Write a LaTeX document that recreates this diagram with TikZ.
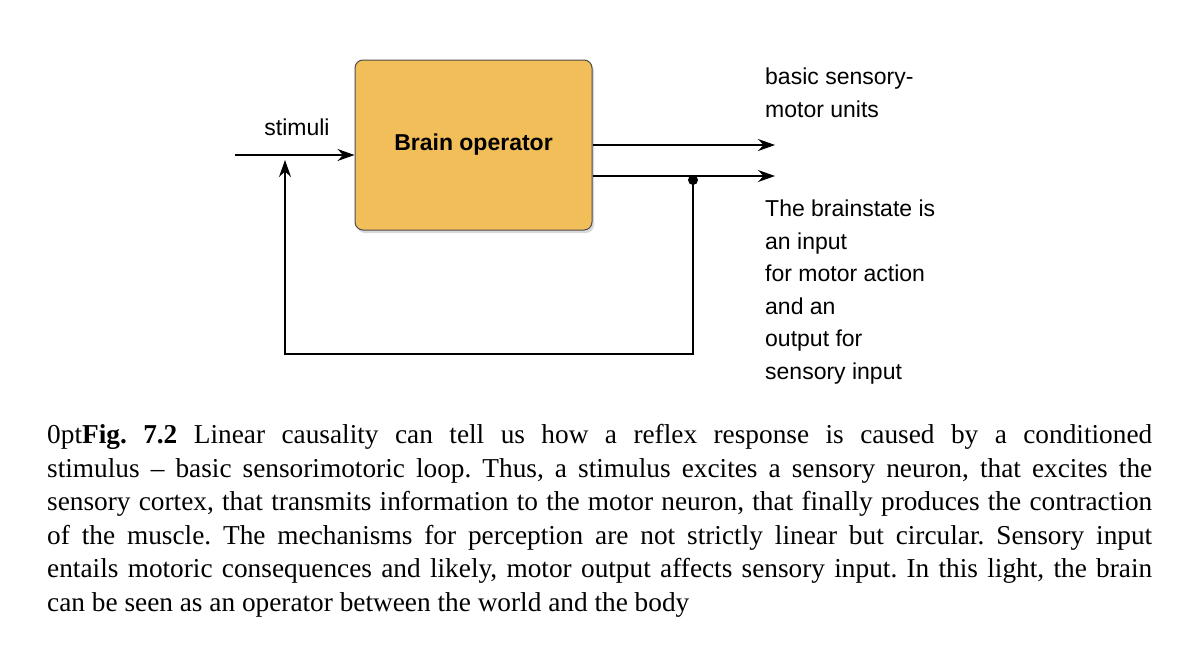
\documentclass[tikz,border=0pt]{standalone}
\usepackage{fontspec}
\setmainfont{Liberation Serif}
\newfontfamily\sansf{Liberation Sans}
\usetikzlibrary{arrows.meta,shadows}
\definecolor{boxfill}{HTML}{F2BE5A}
\begin{document}
\begin{tikzpicture}[x=1pt,y=-1pt,
  conn/.style={line width=1.3pt,-{Stealth[length=17pt,width=12pt]}},
  lbl/.style={font=\sansf\fontsize{23}{32.5}\selectfont,align=left,inner sep=0pt}]
\useasboundingbox (0,0) rectangle (1200,665);
\node[draw=black!70,line width=1pt,fill=boxfill,rounded corners=8pt,minimum width=237pt,minimum height=170pt,
  drop shadow={shadow xshift=2pt,shadow yshift=-3pt,opacity=0.3},
  font=\sansf\bfseries\fontsize{23}{26}\selectfont] (box) at (473.5,145) {Brain operator};
\coordinate (in) at (235,155);
\coordinate (o1) at (775,145);
\coordinate (o2) at (775,176);
\coordinate (fb) at (285,160);
\node[circle,fill=black,inner sep=0pt,minimum size=10pt] (dot) at (693,180) {};
\draw[conn] (in) -- (box.west|-in);
\draw[conn] (box.east|-o1) -- (o1);
\draw[conn] (box.east|-o2) -- (o2);
\draw[conn] (dot.center) -- (693,354) -- (285,354) -- (fb);
\node[lbl,anchor=south] (st) at (297,136) {stimuli};
\node[lbl,anchor=north west] (t1) at (765,68) {basic sensory-\\motor units};
\node[lbl,anchor=north west] (t2) at (765,200) {The brainstate is\\an input\\for motor action\\and an\\output for\\sensory input};
\node[anchor=north west,text width=1105pt,inner sep=0pt,align=justify,font=\frenchspacing\fontsize{27.3}{33.6}\selectfont\hyphenpenalty=10000\emergencystretch=20pt] (cap) at (47,424)
{\textbf{Fig. 7.2} Linear causality can tell us how a reflex response is caused by a conditioned\linebreak stimulus -- basic sensorimotoric loop. Thus, a stimulus excites a sensory neuron, that excites the\linebreak sensory cortex, that transmits information to the motor neuron, that finally produces the contraction\linebreak of the muscle. The mechanisms for perception are not strictly linear but circular. Sensory input\linebreak entails motoric consequences and likely, motor output affects sensory input. In this light, the brain\linebreak can be seen as an operator between the world and the body};
\end{tikzpicture}
\end{document}
